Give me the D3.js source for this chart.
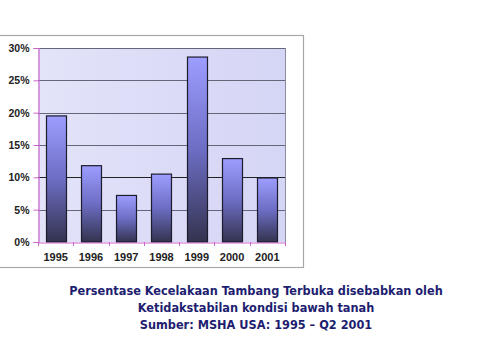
<!DOCTYPE html>
<html>
<head>
<meta charset="utf-8">
<script src="https://cdn.jsdelivr.net/npm/d3@7"></script>
<style>
  html, body { margin: 0; padding: 0; background: #fff; }
  svg { display: block; }
</style>
</head>
<body>
<svg id="chart" width="480" height="360"></svg>
<script>
const years = ["1995", "1996", "1997", "1998", "1999", "2000", "2001"];
const percentages = [19.5, 11.8, 7.2, 10.5, 28.6, 12.9, 9.9];
const yTicks = [0, 5, 10, 15, 20, 25, 30];
const titleLines = [
  "Persentase Kecelakaan Tambang Terbuka disebabkan oleh",
  "Ketidakstabilan kondisi bawah tanah",
  "Sumber: MSHA USA: 1995 \u2013 Q2 2001"
];

const svg = d3.select("#chart");
const plot = { left: 38, right: 285, top: 48, bottom: 242 };

const defs = svg.append("defs");
const bg = defs.append("linearGradient").attr("id", "bgGrad")
  .attr("x1", "0%").attr("y1", "0%").attr("x2", "100%").attr("y2", "0%");
bg.append("stop").attr("offset", "0%").attr("stop-color", "#e3e3fa");
bg.append("stop").attr("offset", "100%").attr("stop-color", "#d5d5f5");

const barGrad = defs.append("linearGradient").attr("id", "barGrad")
  .attr("x1", "0%").attr("y1", "0%").attr("x2", "0%").attr("y2", "100%");
barGrad.append("stop").attr("offset", "0%").attr("stop-color", "#9d9dff");
barGrad.append("stop").attr("offset", "50%").attr("stop-color", "#6d6dc4");
barGrad.append("stop").attr("offset", "100%").attr("stop-color", "#33334f");

// outer frame
svg.append("rect")
  .attr("x", -1).attr("y", 35.5).attr("width", 304.5).attr("height", 232)
  .attr("fill", "#fff").attr("stroke", "#a8a8a8").attr("stroke-width", 1.2);

const x = d3.scaleBand().domain(years).range([plot.left, plot.right]).paddingInner(0.43).paddingOuter(0.215);
const xCat = d3.scaleBand().domain(years).range([plot.left, plot.right]);
const y = d3.scaleLinear().domain([0, 30]).range([plot.bottom, plot.top]);

// plot background
svg.append("rect")
  .attr("x", plot.left).attr("y", plot.top)
  .attr("width", plot.right - plot.left).attr("height", plot.bottom - plot.top)
  .attr("fill", "url(#bgGrad)");

// gridlines
svg.append("g").selectAll("line").data(yTicks.filter(d => d > 0)).join("line")
  .attr("x1", plot.left).attr("x2", plot.right)
  .attr("y1", d => Math.round(y(d)) + 0.5).attr("y2", d => Math.round(y(d)) + 0.5)
  .attr("stroke", d => d === 10 ? "#222" : "#66667a").attr("stroke-width", 1);

// right border of plot area
svg.append("line")
  .attr("x1", plot.right + 0.5).attr("x2", plot.right + 0.5)
  .attr("y1", plot.top).attr("y2", plot.bottom)
  .attr("stroke", "#8a8aa0").attr("stroke-width", 1);

// bars
svg.append("g").selectAll("rect").data(years).join("rect")
  .attr("x", d => Math.round(x(d)) + 0.5)
  .attr("width", Math.round(x.bandwidth()))
  .attr("y", (d, i) => y(percentages[i]))
  .attr("height", (d, i) => plot.bottom - y(percentages[i]))
  .attr("fill", "url(#barGrad)")
  .attr("stroke", "#1c1c2c").attr("stroke-width", 1.2);

// y axis
const yAxis = d3.axisLeft(y).tickValues(yTicks).tickSize(5).tickPadding(4)
  .tickFormat(d => d + "%");
const gy = svg.append("g").attr("transform", `translate(${plot.left + 0.5},0)`).call(yAxis);
gy.select(".domain").attr("stroke", "#cc66cc").attr("stroke-width", 1.2);
gy.selectAll(".tick line").attr("stroke", "#cc66cc");
gy.selectAll(".tick text")
  .attr("font-family", "'Liberation Sans', Arial, sans-serif")
  .attr("font-weight", "bold").attr("font-size", "10.5px").attr("fill", "#222");

// x axis (ticks between categories)
const xAxis = d3.axisBottom(xCat).tickSize(0).tickPadding(11);
const gx = svg.append("g").attr("transform", `translate(0,${plot.bottom + 0.5})`).call(xAxis);
gx.select(".domain").attr("stroke", "#cc66cc").attr("stroke-width", 1.2);
gx.selectAll(".tick text")
  .attr("font-family", "'Liberation Sans', Arial, sans-serif")
  .attr("font-weight", "bold").attr("font-size", "11px").attr("fill", "#222");
const sepPositions = years.map(d => xCat(d)).concat([plot.right]);
svg.append("g").selectAll("line").data(sepPositions).join("line")
  .attr("x1", d => Math.round(d) + 0.5).attr("x2", d => Math.round(d) + 0.5)
  .attr("y1", plot.bottom).attr("y2", plot.bottom + 4)
  .attr("stroke", "#cc66cc").attr("stroke-width", 1);

// title
svg.append("g").selectAll("text").data(titleLines).join("text")
  .attr("x", 256).attr("y", (d, i) => 295 + i * 17)
  .attr("text-anchor", "middle")
  .attr("font-family", "'DejaVu Sans Condensed', 'DejaVu Sans', sans-serif")
  .attr("font-weight", "bold").attr("font-size", "12.6px")
  .attr("fill", "#1e1e70")
  .text(d => d);
</script>
</body>
</html>
